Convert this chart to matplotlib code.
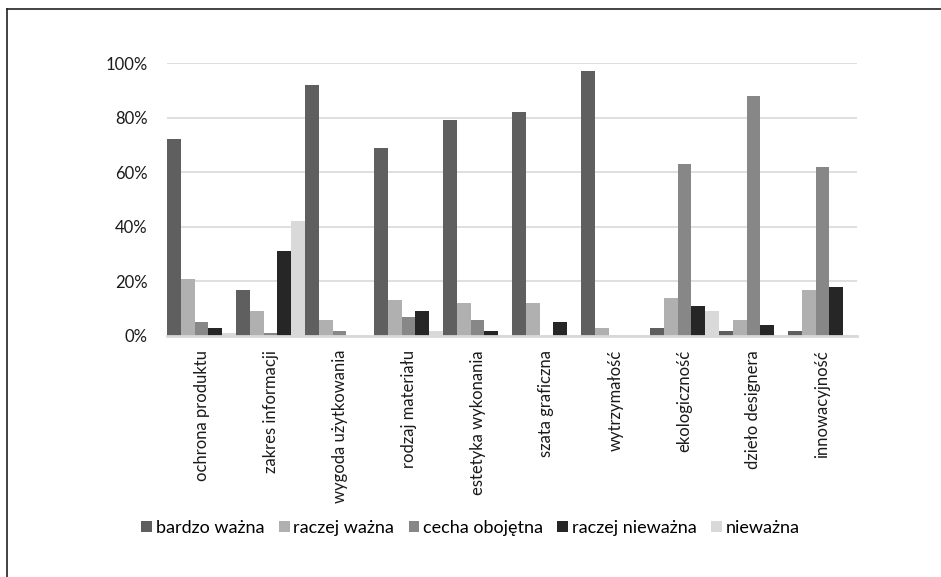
import matplotlib.pyplot as plt
import numpy as np
from matplotlib.lines import Line2D
from matplotlib.ticker import PercentFormatter

plt.rcParams["font.family"] = ["Lato", "DejaVu Sans"]

categories = [
    "ochrona produktu",
    "zakres informacji",
    "wygoda użytkowania",
    "rodzaj materiału",
    "estetyka wykonania",
    "szata graficzna",
    "wytrzymałość",
    "ekologiczność",
    "dzieło designera",
    "innowacyjność",
]

series_names = ["bardzo ważna", "raczej ważna", "cecha obojętna", "raczej nieważna", "nieważna"]

bardzo_wazna = [72, 17, 92, 69, 79, 82, 97, 3, 2, 2]
raczej_wazna = [21, 9, 6, 13, 12, 12, 3, 14, 6, 17]
cecha_obojetna = [5, 1, 2, 7, 6, 0, 0, 63, 88, 62]
raczej_niewazna = [3, 31, 0, 9, 2, 5, 0, 11, 4, 18]
niewazna = [1, 42, 0, 2, 0, 0, 0, 9, 0, 0]

series = [bardzo_wazna, raczej_wazna, cecha_obojetna, raczej_niewazna, niewazna]
colors = ["#5f5f5f", "#b0b0b0", "#878787", "#262626", "#d9d9d9"]

fig = plt.figure(figsize=(9.41, 5.77), dpi=100)
ax = fig.add_axes([0.1775, 0.4177, 0.7332, 0.4731])

x = np.arange(len(categories))
width = 0.2
for i, (vals, name, col) in enumerate(zip(series, series_names, colors)):
    ax.bar(x + (i - 2) * width, np.array(vals) / 100, width, color=col, label=name, zorder=3)

ax.set_xlim(-0.5, len(categories) - 0.5)
ax.set_ylim(0, 1)
ax.set_yticks(np.arange(0, 1.01, 0.2))
ax.yaxis.set_major_formatter(PercentFormatter(1.0, decimals=0))
ax.grid(axis="y", color="#d9d9d9", linewidth=1.2, zorder=0)

ax.set_xticks(x)
ax.set_xticklabels(categories, rotation=90, va="top", ha="center")

for side in ["top", "right", "left"]:
    ax.spines[side].set_visible(False)
ax.spines["bottom"].set_color("#d9d9d9")
ax.spines["bottom"].set_linewidth(2)
ax.spines["bottom"].set_zorder(4)

ax.tick_params(axis="y", length=0, pad=14, labelsize=12, labelcolor="#1a1a1a")
ax.tick_params(axis="x", length=0, pad=10, labelsize=12, labelcolor="#1a1a1a")

handles, labels = ax.get_legend_handles_labels()
fig.legend(
    handles,
    labels,
    loc="center",
    bbox_to_anchor=(0.5, 1 - 528 / 577),
    ncol=5,
    frameon=False,
    fontsize=13,
    handlelength=0.6,
    handleheight=0.6,
    handletextpad=0.2,
    columnspacing=0.8,
)

# frame edges around the chart
fig.add_artist(Line2D([7 / 941, 1], [1 - 8.5 / 577, 1 - 8.5 / 577], color="#222222", linewidth=1.2, transform=fig.transFigure))
fig.add_artist(Line2D([7.3 / 941, 7.3 / 941], [0, 1 - 8.5 / 577], color="#222222", linewidth=1.2, transform=fig.transFigure))

fig.savefig("out.png", dpi=100)
